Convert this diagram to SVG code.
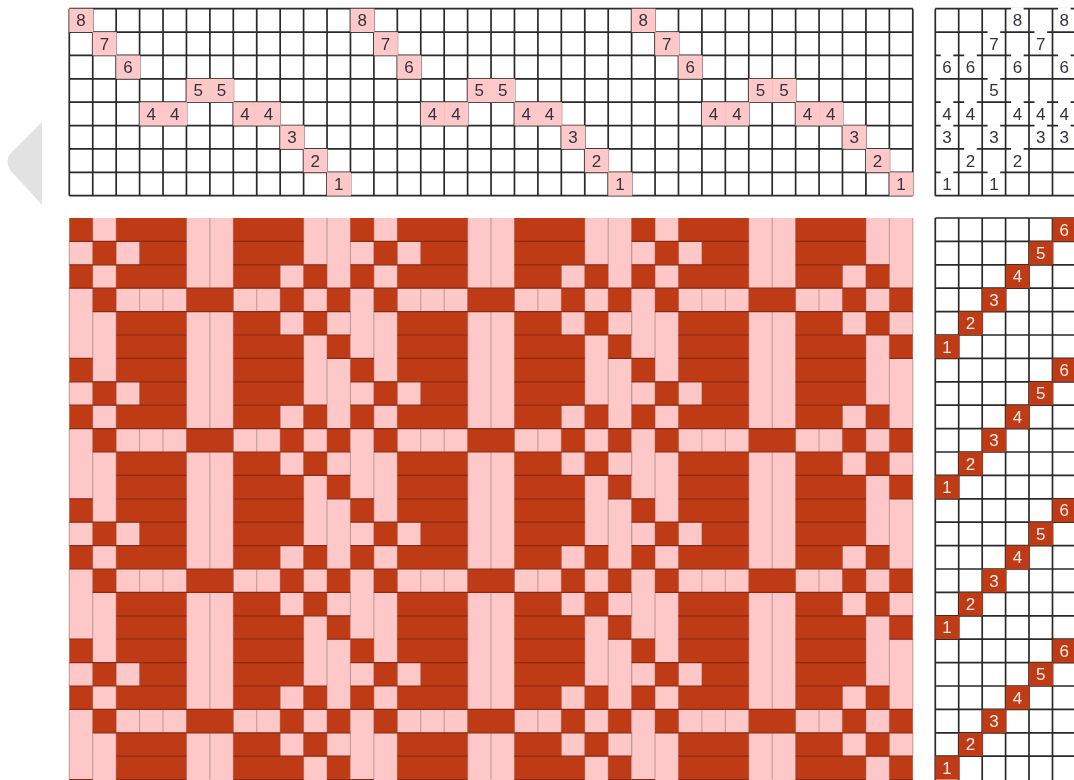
<svg xmlns="http://www.w3.org/2000/svg" width="1074" height="780" viewBox="0 0 1074 780">
<style>
.g{fill:none;stroke:#2a2a2a;stroke-width:1.7}
.p{fill:#ffc8c8;width:24px;height:23.4px}
.d{fill:#bf3a14;width:24px;height:23.4px}
.w{fill:#fff;width:12.6px;height:3px}
text{font-family:"Liberation Sans",Arial,sans-serif;font-size:17px;text-anchor:middle;fill:#333340;transform:translateY(.3px)}
.t{fill:#ffeee6}
</style>
<defs>
<filter id="soft" filterUnits="userSpaceOnUse" x="0" y="0" width="1074" height="780"><feGaussianBlur stdDeviation="0.35"/></filter>
<g id="tile">
<path fill="none" stroke="#c39a9a" stroke-width="1.1" d="M0 23.4V46.8M0 70.2V140.4M23.43 0V140.4M46.86 0V140.4M70.29 23.4V46.8M70.29 70.2V93.6M93.72 70.2V93.6M117.15 0V140.4M140.58 0V70.2M140.58 93.6V140.4M164.01 0V140.4M187.44 70.2V93.6M210.87 46.8V117M234.3 0V140.4M257.73 0V140.4M281.16 0V70.2M281.16 93.6V117"/>
<path fill="#bf3a14" d="M0 0H23.43V23.4H0ZM46.86 0H117.15V23.4H46.86ZM164.01 0H234.3V23.4H164.01ZM23.43 23.4H46.86V46.8H23.43ZM70.29 23.4H117.15V46.8H70.29ZM164.01 23.4H234.3V46.8H164.01ZM0 46.8H23.43V70.2H0ZM46.86 46.8H117.15V70.2H46.86ZM164.01 46.8H210.87V70.2H164.01ZM234.3 46.8H257.73V70.2H234.3ZM23.43 70.2H46.86V93.6H23.43ZM117.15 70.2H164.01V93.6H117.15ZM210.87 70.2H234.3V93.6H210.87ZM257.73 70.2H281.16V93.6H257.73ZM46.86 93.6H117.15V117H46.86ZM164.01 93.6H210.87V117H164.01ZM234.3 93.6H257.73V117H234.3ZM46.86 117H117.15V140.4H46.86ZM164.01 117H234.3V140.4H164.01ZM257.73 117H281.16V140.4H257.73Z"/>
</g>
<path id="weft" fill="none" stroke="#8a2c14" stroke-width="1.2" d="M0 23.4H117.15M164.01 23.4H234.3M0 46.8H117.15M164.01 46.8H257.73M0 70.2H281.16M23.43 93.6H281.16M46.86 117H117.15M164.01 117H281.16M0 140.4H23.43M46.86 140.4H117.15M164.01 140.4H234.3M257.73 140.4H281.16"/>
</defs>
<rect width="1074" height="780" fill="#fff"/>
<g filter="url(#soft)">
<path id="arrow" fill="#e2e2e2" d="M42 122L10 154Q5 161 10 170L42 205Z"/>
<g id="threading">
<path class="g" d="M69.3 8.7H912.8M69.3 32.1H912.8M69.3 55.4H912.8M69.3 78.8H912.8M69.3 102.2H912.8M69.3 125.6H912.8M69.3 148.9H912.8M69.3 172.3H912.8M69.3 195.7H912.8"/>
<path class="g" d="M69.3 8.7v187m23.43-187v187m23.43-187v187m23.43-187v187m23.43-187v187m23.43-187v187m23.43-187v187m23.43-187v187m23.43-187v187m23.43-187v187m23.43-187v187m23.43-187v187m23.43-187v187m23.43-187v187m23.43-187v187m23.43-187v187m23.43-187v187m23.43-187v187m23.43-187v187m23.43-187v187m23.43-187v187m23.43-187v187m23.43-187v187m23.43-187v187m23.43-187v187m23.43-187v187m23.43-187v187m23.43-187v187m23.43-187v187m23.43-187v187m23.43-187v187m23.43-187v187m23.43-187v187m23.43-187v187m23.43-187v187m23.43-187v187m23.43-187v187"/>
<rect class="p" x="69.3" y="8.7"/><text x="81" y="26.1">8</text>
<rect class="p" x="92.7" y="32.1"/><text x="104.5" y="49.5">7</text>
<rect class="p" x="116.2" y="55.4"/><text x="127.9" y="72.8">6</text>
<rect class="p" x="139.6" y="102.2"/><text x="151.3" y="119.6">4</text>
<rect class="p" x="163" y="102.2"/><text x="174.7" y="119.6">4</text>
<rect class="p" x="186.5" y="78.8"/><text x="198.2" y="96.2">5</text>
<rect class="p" x="209.9" y="78.8"/><text x="221.6" y="96.2">5</text>
<rect class="p" x="233.3" y="102.2"/><text x="245" y="119.6">4</text>
<rect class="p" x="256.7" y="102.2"/><text x="268.5" y="119.6">4</text>
<rect class="p" x="280.2" y="125.5"/><text x="291.9" y="142.9">3</text>
<rect class="p" x="303.6" y="148.9"/><text x="315.3" y="166.3">2</text>
<rect class="p" x="327" y="172.3"/><text x="338.8" y="189.7">1</text>
<rect class="p" x="350.5" y="8.7"/><text x="362.2" y="26.1">8</text>
<rect class="p" x="373.9" y="32.1"/><text x="385.6" y="49.5">7</text>
<rect class="p" x="397.3" y="55.4"/><text x="409" y="72.8">6</text>
<rect class="p" x="420.8" y="102.2"/><text x="432.5" y="119.6">4</text>
<rect class="p" x="444.2" y="102.2"/><text x="455.9" y="119.6">4</text>
<rect class="p" x="467.6" y="78.8"/><text x="479.3" y="96.2">5</text>
<rect class="p" x="491" y="78.8"/><text x="502.8" y="96.2">5</text>
<rect class="p" x="514.5" y="102.2"/><text x="526.2" y="119.6">4</text>
<rect class="p" x="537.9" y="102.2"/><text x="549.6" y="119.6">4</text>
<rect class="p" x="561.3" y="125.5"/><text x="573.1" y="142.9">3</text>
<rect class="p" x="584.8" y="148.9"/><text x="596.5" y="166.3">2</text>
<rect class="p" x="608.2" y="172.3"/><text x="619.9" y="189.7">1</text>
<rect class="p" x="631.6" y="8.7"/><text x="643.3" y="26.1">8</text>
<rect class="p" x="655.1" y="32.1"/><text x="666.8" y="49.5">7</text>
<rect class="p" x="678.5" y="55.4"/><text x="690.2" y="72.8">6</text>
<rect class="p" x="701.9" y="102.2"/><text x="713.6" y="119.6">4</text>
<rect class="p" x="725.3" y="102.2"/><text x="737.1" y="119.6">4</text>
<rect class="p" x="748.8" y="78.8"/><text x="760.5" y="96.2">5</text>
<rect class="p" x="772.2" y="78.8"/><text x="783.9" y="96.2">5</text>
<rect class="p" x="795.6" y="102.2"/><text x="807.4" y="119.6">4</text>
<rect class="p" x="819.1" y="102.2"/><text x="830.8" y="119.6">4</text>
<rect class="p" x="842.5" y="125.5"/><text x="854.2" y="142.9">3</text>
<rect class="p" x="865.9" y="148.9"/><text x="877.6" y="166.3">2</text>
<rect class="p" x="889.4" y="172.3"/><text x="901.1" y="189.7">1</text>
</g>
<g id="tieup">
<path class="g" d="M935.3 8.7H1074M935.3 32.1H1074M935.3 55.4H1074M935.3 78.8H1074M935.3 102.2H1074M935.3 125.6H1074M935.3 148.9H1074M935.3 172.3H1074M935.3 195.7H1074M935.3 8.7V195.7M958.7 8.7V195.7M982.2 8.7V195.7M1005.6 8.7V195.7M1029 8.7V195.7M1052.5 8.7V195.7"/>
<rect class="w" x="1011.1" y="7.2"/><text x="1017.4" y="26.1">8</text>
<rect class="w" x="1058" y="7.2"/><text x="1064.3" y="26.1">8</text>
<rect class="w" x="987.6" y="30.6"/><text x="993.9" y="49.5">7</text>
<rect class="w" x="1034.5" y="30.6"/><text x="1040.8" y="49.5">7</text>
<rect class="w" x="940.7" y="53.9"/><text x="947" y="72.8">6</text>
<rect class="w" x="964.2" y="53.9"/><text x="970.5" y="72.8">6</text>
<rect class="w" x="1011.1" y="53.9"/><text x="1017.4" y="72.8">6</text>
<rect class="w" x="1058" y="53.9"/><text x="1064.3" y="72.8">6</text>
<rect class="w" x="987.6" y="77.3"/><text x="993.9" y="96.2">5</text>
<rect class="w" x="940.7" y="100.7"/><text x="947" y="119.6">4</text>
<rect class="w" x="964.2" y="100.7"/><text x="970.5" y="119.6">4</text>
<rect class="w" x="1011.1" y="100.7"/><text x="1017.4" y="119.6">4</text>
<rect class="w" x="1034.5" y="100.7"/><text x="1040.8" y="119.6">4</text>
<rect class="w" x="1058" y="100.7"/><text x="1064.3" y="119.6">4</text>
<rect class="w" x="940.7" y="124.1"/><text x="947" y="142.9">3</text>
<rect class="w" x="987.6" y="124.1"/><text x="993.9" y="142.9">3</text>
<rect class="w" x="1034.5" y="124.1"/><text x="1040.8" y="142.9">3</text>
<rect class="w" x="1058" y="124.1"/><text x="1064.3" y="142.9">3</text>
<rect class="w" x="964.2" y="147.4"/><text x="970.5" y="166.3">2</text>
<rect class="w" x="1011.1" y="147.4"/><text x="1017.4" y="166.3">2</text>
<rect class="w" x="940.7" y="170.8"/><text x="947" y="189.7">1</text>
<rect class="w" x="987.6" y="170.8"/><text x="993.9" y="189.7">1</text>
</g>
<g id="drawdown">
<rect x="69.3" y="218" width="843.5" height="562" fill="#ffc8c8"/>
<use href="#tile" x="69.3" y="218"/><use href="#tile" x="350.46" y="218"/><use href="#tile" x="631.62" y="218"/>
<use href="#tile" x="69.3" y="358.4"/><use href="#tile" x="350.46" y="358.4"/><use href="#tile" x="631.62" y="358.4"/>
<use href="#tile" x="69.3" y="498.8"/><use href="#tile" x="350.46" y="498.8"/><use href="#tile" x="631.62" y="498.8"/>
<use href="#tile" x="69.3" y="639.2"/><use href="#tile" x="350.46" y="639.2"/><use href="#tile" x="631.62" y="639.2"/>
<use href="#weft" x="69.3" y="218"/><use href="#weft" x="350.46" y="218"/><use href="#weft" x="631.62" y="218"/>
<use href="#weft" x="69.3" y="358.4"/><use href="#weft" x="350.46" y="358.4"/><use href="#weft" x="631.62" y="358.4"/>
<use href="#weft" x="69.3" y="498.8"/><use href="#weft" x="350.46" y="498.8"/><use href="#weft" x="631.62" y="498.8"/>
<use href="#weft" x="69.3" y="639.2"/><use href="#weft" x="350.46" y="639.2"/><use href="#weft" x="631.62" y="639.2"/>
</g>
<g id="treadling">
<path class="g" d="M935.3 218H1074M935.3 241.4H1074M935.3 264.8H1074M935.3 288.2H1074M935.3 311.6H1074M935.3 335H1074M935.3 358.4H1074M935.3 381.8H1074M935.3 405.2H1074M935.3 428.6H1074M935.3 452H1074M935.3 475.4H1074M935.3 498.8H1074M935.3 522.2H1074M935.3 545.6H1074M935.3 569H1074M935.3 592.4H1074M935.3 615.8H1074M935.3 639.2H1074M935.3 662.6H1074M935.3 686H1074M935.3 709.4H1074M935.3 732.8H1074M935.3 756.2H1074M935.3 218V780M958.7 218V780M982.2 218V780M1005.6 218V780M1029 218V780M1052.5 218V780"/>
<rect class="d" x="1052.6" y="218"/><text class="t" x="1064.3" y="235.4">6</text>
<rect class="d" x="1029.1" y="241.4"/><text class="t" x="1040.8" y="258.8">5</text>
<rect class="d" x="1005.7" y="264.8"/><text class="t" x="1017.4" y="282.2">4</text>
<rect class="d" x="982.2" y="288.2"/><text class="t" x="993.9" y="305.6">3</text>
<rect class="d" x="958.8" y="311.6"/><text class="t" x="970.5" y="329">2</text>
<rect class="d" x="935.3" y="335"/><text class="t" x="947" y="352.4">1</text>
<rect class="d" x="1052.6" y="358.4"/><text class="t" x="1064.3" y="375.8">6</text>
<rect class="d" x="1029.1" y="381.8"/><text class="t" x="1040.8" y="399.2">5</text>
<rect class="d" x="1005.7" y="405.2"/><text class="t" x="1017.4" y="422.6">4</text>
<rect class="d" x="982.2" y="428.6"/><text class="t" x="993.9" y="446">3</text>
<rect class="d" x="958.8" y="452"/><text class="t" x="970.5" y="469.4">2</text>
<rect class="d" x="935.3" y="475.4"/><text class="t" x="947" y="492.8">1</text>
<rect class="d" x="1052.6" y="498.8"/><text class="t" x="1064.3" y="516.2">6</text>
<rect class="d" x="1029.1" y="522.2"/><text class="t" x="1040.8" y="539.6">5</text>
<rect class="d" x="1005.7" y="545.6"/><text class="t" x="1017.4" y="563">4</text>
<rect class="d" x="982.2" y="569"/><text class="t" x="993.9" y="586.4">3</text>
<rect class="d" x="958.8" y="592.4"/><text class="t" x="970.5" y="609.8">2</text>
<rect class="d" x="935.3" y="615.8"/><text class="t" x="947" y="633.2">1</text>
<rect class="d" x="1052.6" y="639.2"/><text class="t" x="1064.3" y="656.6">6</text>
<rect class="d" x="1029.1" y="662.6"/><text class="t" x="1040.8" y="680">5</text>
<rect class="d" x="1005.7" y="686"/><text class="t" x="1017.4" y="703.4">4</text>
<rect class="d" x="982.2" y="709.4"/><text class="t" x="993.9" y="726.8">3</text>
<rect class="d" x="958.8" y="732.8"/><text class="t" x="970.5" y="750.2">2</text>
<rect class="d" x="935.3" y="756.2"/><text class="t" x="947" y="773.6">1</text>
</g>
</g>
</svg>
